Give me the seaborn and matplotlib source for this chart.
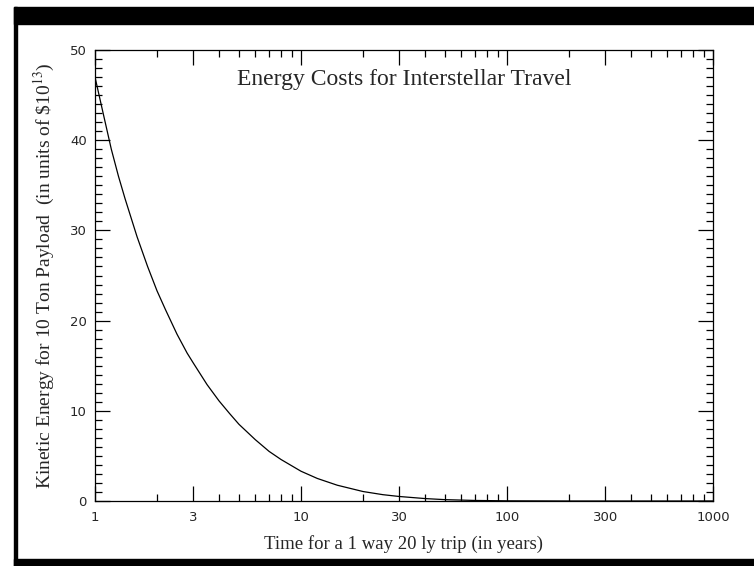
import matplotlib
matplotlib.use("Agg")
import matplotlib.pyplot as plt
from matplotlib.patches import Rectangle
from matplotlib.ticker import FixedLocator, NullFormatter
import seaborn as sns
import pandas as pd

# values
trip_years = [1, 1.1, 1.2, 1.3, 1.4, 1.6, 1.8, 2, 2.2, 2.5, 2.8, 3, 3.5, 4, 4.5, 5, 6, 7, 8, 10,
              12, 15, 20, 25, 30, 40, 50, 70, 100, 200, 1000]
energy = [47, 42.8, 39, 36, 33.5, 29.3, 26, 23.3, 21.2, 18.5, 16.4, 15.3, 12.9, 11.1, 9.7, 8.5,
          6.8, 5.5, 4.6, 3.3, 2.5, 1.75, 1.05, 0.7, 0.5, 0.27, 0.15, 0.06, 0.02, 0, 0]

x_ticks = [1, 3, 10, 30, 100, 300, 1000]
x_minor = [2, 4, 5, 6, 7, 8, 9, 20, 40, 50, 60, 70, 80, 90, 200, 400, 500, 600, 700, 800, 900]
y_ticks = [0, 10, 20, 30, 40, 50]

df = pd.DataFrame({"t": trip_years, "E": energy})

sns.set_style("ticks")
plt.rcParams["font.family"] = ["DejaVu Sans"]
plt.rcParams["mathtext.fontset"] = "stix"

fig = plt.figure(figsize=(7.54, 5.66), dpi=100)
ax = fig.add_axes([95 / 754, 65 / 566, 618 / 754, 451 / 566])

sns.lineplot(data=df, x="t", y="E", ax=ax, color="black", linewidth=0.9)

ax.set_xscale("log")
ax.set_xlim(1, 1000)
ax.set_ylim(0, 50)
ax.xaxis.set_major_locator(FixedLocator(x_ticks))
ax.xaxis.set_minor_locator(FixedLocator(x_minor))
ax.xaxis.set_minor_formatter(NullFormatter())
ax.set_xticklabels([str(v) for v in x_ticks])
ax.set_yticks(y_ticks)
ax.yaxis.set_minor_locator(FixedLocator(range(0, 51)))

for s in ax.spines.values():
    s.set_visible(True)
    s.set_linewidth(0.9)
    s.set_color("black")

ax.tick_params(which="both", direction="in", top=True, right=True,
               width=0.9, color="black", labelsize=9.5)
ax.tick_params(which="major", length=11)
ax.tick_params(which="minor", length=5)
ax.tick_params(axis="x", pad=7)
ax.tick_params(axis="y", pad=6)

serif = ["Liberation Serif", "DejaVu Serif"]
ax.set_xlabel("Time for a 1 way 20 ly trip (in years)", family=serif, fontsize=13.5, labelpad=8)
ax.set_ylabel("Kinetic Energy for 10 Ton Payload  (in units of \\$10$^{13}$)",
              family=serif, fontsize=14, labelpad=9)
ax.text(0.5, 0.935, "Energy Costs for Interstellar Travel", transform=ax.transAxes,
        ha="center", va="center", family=serif, fontsize=17)

# black frame of the original slide
fig.patches.append(Rectangle((14 / 754, 542 / 566), 740 / 754, 17 / 566,
                             transform=fig.transFigure, color="black", zorder=0))
fig.patches.append(Rectangle((14 / 754, 0), 3 / 754, 559 / 566,
                             transform=fig.transFigure, color="black", zorder=0))
fig.patches.append(Rectangle((14 / 754, 0), 740 / 754, 7 / 566,
                             transform=fig.transFigure, color="black", zorder=0))

fig.savefig("out.png", dpi=100)
